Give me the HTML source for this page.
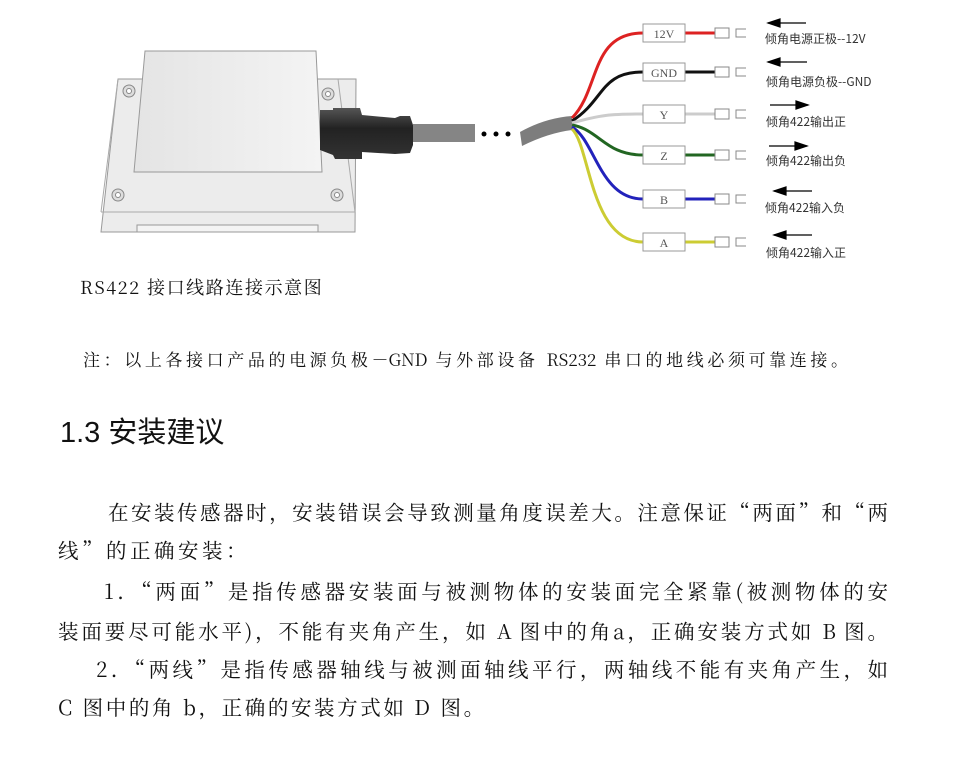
<!DOCTYPE html>
<html><head><meta charset="utf-8"><style>
body{margin:0;width:969px;height:757px;background:#fff;position:relative;overflow:hidden;font-family:"Noto Serif CJK SC","Liberation Serif",serif;color:#111}
.t{position:absolute;white-space:nowrap}
.j{position:absolute;text-align:justify;text-align-last:justify;white-space:nowrap;font-size:20.5px;line-height:1}
.lab{font-family:"Noto Sans CJK SC",sans-serif;font-size:12px;fill:#333}
</style></head><body>
<svg width="969" height="270" style="position:absolute;left:0;top:0">
<defs>
<linearGradient id="g1" x1="0" x2="1"><stop offset="0" stop-color="#e4e4e4"/><stop offset="1" stop-color="#f4f4f4"/></linearGradient>
<linearGradient id="g2" x1="0" y1="0" x2="0" y2="1"><stop offset="0" stop-color="#555"/><stop offset="0.4" stop-color="#222"/><stop offset="1" stop-color="#333"/></linearGradient>
</defs>
<polygon points="118,79 356,79 355,232 101,232" fill="#ececec" stroke="#999"/>
<polygon points="145,51 316,51 322,172 134,172" fill="url(#g1)" stroke="#999"/>
<line x1="118" y1="79" x2="101" y2="212" stroke="#aaa"/>
<line x1="338" y1="79" x2="355" y2="212" stroke="#aaa"/>
<line x1="101" y1="212" x2="355" y2="212" stroke="#aaa"/>
<rect x="137" y="225" width="181" height="7" fill="#f4f4f4" stroke="#999"/>
<g fill="#ddd" stroke="#888"><circle cx="129" cy="91" r="6"/><circle cx="328" cy="94" r="6"/><circle cx="118" cy="195" r="6"/><circle cx="337" cy="195" r="6"/></g>
<g fill="#fff" stroke="#888"><circle cx="129" cy="91" r="2.5"/><circle cx="328" cy="94" r="2.5"/><circle cx="118" cy="195" r="2.5"/><circle cx="337" cy="195" r="2.5"/></g>
<path d="M320,110 L333,110 L333,108 L360,108 L362,115 L395,118 L400,116 L410,116 L413,125 L413,145 L410,153 L395,154 L362,152 L362,159 L335,159 L333,155 L320,150 Z" fill="url(#g2)"/>
<rect x="413" y="124" width="62" height="18" fill="#858585"/>
<g fill="#000"><circle cx="484" cy="134" r="2.5"/><circle cx="496" cy="134" r="2.5"/><circle cx="508" cy="134" r="2.5"/></g>
<path d="M520,132 Q545,118 572,116 L572,130 Q548,133 522,146 Z" fill="#7d7d7d"/>
<g fill="none" stroke-width="3">
<path d="M572,118 C600,90 590,33 643,33" stroke="#d22"/>
<path d="M572,121 C605,100 600,72 643,72" stroke="#111"/>
<path d="M572,123 C600,115 610,114 643,114" stroke="#ccc"/>
<path d="M572,125 C600,130 605,155 643,155" stroke="#262"/>
<path d="M572,127 C595,140 600,199 643,199" stroke="#22b"/>
<path d="M572,129 C590,145 590,242 643,242" stroke="#cc3"/>
<line x1="685" y1="33" x2="715" y2="33" stroke="#d22"/>
<line x1="685" y1="72" x2="715" y2="72" stroke="#111"/>
<line x1="685" y1="114" x2="715" y2="114" stroke="#ccc"/>
<line x1="685" y1="155" x2="715" y2="155" stroke="#262"/>
<line x1="685" y1="199" x2="715" y2="199" stroke="#22b"/>
<line x1="685" y1="242" x2="715" y2="242" stroke="#cc3"/>
</g>
<g fill="#fff" stroke="#999">
<rect x="643" y="24" width="42" height="18"/><rect x="643" y="63" width="42" height="18"/><rect x="643" y="105" width="42" height="18"/><rect x="643" y="146" width="42" height="18"/><rect x="643" y="190" width="42" height="18"/><rect x="643" y="233" width="42" height="18"/>
</g>
<g font-family="Liberation Serif" font-size="12" fill="#555" text-anchor="middle">
<text x="664" y="38">12V</text><text x="664" y="77">GND</text><text x="664" y="119">Y</text><text x="664" y="160">Z</text><text x="664" y="204">B</text><text x="664" y="247">A</text>
</g>
<g fill="#fff" stroke="#888">
<rect x="715" y="28" width="14" height="10"/><rect x="715" y="67" width="14" height="10"/><rect x="715" y="109" width="14" height="10"/><rect x="715" y="150" width="14" height="10"/><rect x="715" y="194" width="14" height="10"/><rect x="715" y="237" width="14" height="10"/>
<path d="M746,29 h-10 v8 h10 M746,68 h-10 v8 h10 M746,110 h-10 v8 h10 M746,151 h-10 v8 h10 M746,195 h-10 v8 h10 M746,238 h-10 v8 h10" fill="none"/>
</g>
<g stroke="#000" stroke-width="1.2" fill="#000">
<line x1="768" y1="23" x2="806" y2="23"/><polygon points="768,23 780,19 780,27"/>
<line x1="768" y1="62" x2="807" y2="62"/><polygon points="768,62 780,58 780,66"/>
<line x1="770" y1="105" x2="808" y2="105"/><polygon points="808,105 796,101 796,109"/>
<line x1="769" y1="146" x2="807" y2="146"/><polygon points="807,146 795,142 795,150"/>
<line x1="774" y1="191" x2="812" y2="191"/><polygon points="774,191 786,187 786,195"/>
<line x1="774" y1="235" x2="812" y2="235"/><polygon points="774,235 786,231 786,239"/>
</g>
<g class="lab">
<text x="765" y="43">倾角电源正极--12V</text>
<text x="766" y="86">倾角电源负极--GND</text>
<text x="766" y="126">倾角422输出正</text>
<text x="766" y="165">倾角422输出负</text>
<text x="765" y="212">倾角422输入负</text>
<text x="766" y="257">倾角422输入正</text>
</g>
</svg>
<div class="t" style="left:80px;top:278px;font-size:18px;letter-spacing:1.6px;line-height:1">RS422 接口线路连接示意图</div>
<div class="j" style="left:83px;top:350px;width:765px;font-size:17px">注：以上各接口产品的电源负极－GND 与外部设备 RS232 串口的地线必须可靠连接。</div>
<div class="t" style="left:60px;top:409px;font-size:29px;font-family:'Liberation Sans','Noto Sans CJK SC',sans-serif">1.3 安装建议</div>
<div class="j" style="left:108px;top:501px;width:780px">在安装传感器时，安装错误会导致测量角度误差大。注意保证“两面”和“两</div>
<div class="t" style="left:58px;top:539px;font-size:20.5px;line-height:1;letter-spacing:3.5px">线”的正确安装：</div>
<div class="j" style="left:104px;top:580px;width:784px">1．“两面”是指传感器安装面与被测物体的安装面完全紧靠(被测物体的安</div>
<div class="j" style="left:58px;top:620px;width:830px">装面要尽可能水平)，不能有夹角产生，如 A 图中的角a，正确安装方式如 B 图。</div>
<div class="j" style="left:96px;top:658px;width:792px">2．“两线”是指传感器轴线与被测面轴线平行，两轴线不能有夹角产生，如</div>
<div class="t" style="left:58px;top:696px;font-size:20.5px;line-height:1;letter-spacing:2.6px">C 图中的角 b，正确的安装方式如 D 图。</div>
</body></html>
